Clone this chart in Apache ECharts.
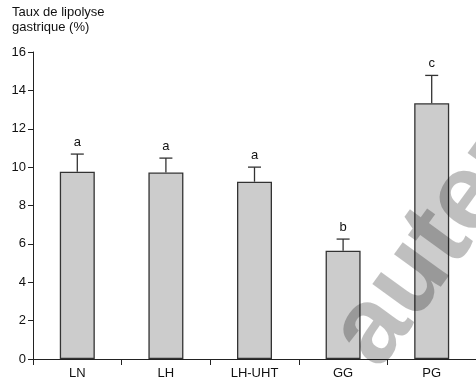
<!DOCTYPE html>
<html>
<head>
<meta charset="utf-8">
<script src="https://cdn.jsdelivr.net/npm/echarts@6/dist/echarts.min.js"></script>
<style>
html,body{margin:0;padding:0;background:#fff;}
#c{width:476px;height:382px;}
</style>
</head>
<body>
<div id="c"></div>
<script>
const categories = ['LN', 'LH', 'LH-UHT', 'GG', 'PG'];
const values = [9.76, 9.72, 9.24, 5.64, 13.33];
const errors = [0.92, 0.75, 0.76, 0.61, 1.45];
const letters = ['a', 'a', 'a', 'b', 'c'];
const yTicks = [0, 2, 4, 6, 8, 10, 12, 14, 16];

const FONT = "'Liberation Sans', Arial, Helvetica, sans-serif";
const chart = echarts.init(document.getElementById('c'), null, {renderer: 'canvas'});

const errData = categories.map((c, i) => [i, values[i], values[i] + errors[i], letters[i]]);

chart.setOption({
  animation: false,
  backgroundColor: '#fff',
  grid: {left: 33, top: 52, width: 447, bottom: 23, containLabel: false},
  xAxis: {
    type: 'category',
    data: categories,
    boundaryGap: true,
    axisLine: {show: true, lineStyle: {color: '#222', width: 1}},
    axisTick: {show: true, inside: false, length: 6, lineStyle: {color: '#222', width: 1}},
    axisLabel: {color: '#111', fontSize: 13, fontFamily: FONT, margin: 8}
  },
  yAxis: {
    type: 'value',
    min: yTicks[0],
    max: yTicks[yTicks.length - 1],
    interval: 2,
    splitLine: {show: false},
    axisLine: {show: true, lineStyle: {color: '#222', width: 1}},
    axisTick: {show: true, inside: false, length: 5, lineStyle: {color: '#222', width: 1}},
    axisLabel: {color: '#111', fontSize: 13, fontFamily: FONT, margin: 7}
  },
  graphic: [
    {
      type: 'text', left: 12, top: 5, z: 10,
      style: {text: 'Taux de lipolyse\ngastrique (%)', fill: '#111', font: '13px ' + FONT, lineHeight: 15}
    },
    {
      type: 'text', x: 355, y: 354, rotation: 0.942, z: 100, silent: true,
      style: {text: 'auteur', fill: 'rgba(0,0,0,0.25)', font: 'bold 108px ' + FONT, align: 'left', verticalAlign: 'middle'}
    }
  ],
  series: [
    {
      type: 'bar',
      data: values,
      barWidth: 35,
      itemStyle: {color: '#cccccc', borderColor: '#333', borderWidth: 1.3},
      z: 2
    },
    {
      type: 'custom',
      data: errData,
      z: 3,
      renderItem: function (params, api) {
        const x = api.value(0);
        const p0 = api.coord([x, api.value(1)]);
        const p1 = api.coord([x, api.value(2)]);
        const half = 6.5;
        const st = {stroke: '#333', lineWidth: 1.3};
        return {
          type: 'group',
          children: [
            {type: 'line', shape: {x1: p0[0], y1: p0[1], x2: p1[0], y2: p1[1]}, style: st},
            {type: 'line', shape: {x1: p1[0] - half, y1: p1[1], x2: p1[0] + half, y2: p1[1]}, style: st},
            {type: 'text', style: {text: api.value(3), x: p1[0], y: p1[1] - 5, align: 'center', verticalAlign: 'bottom', fill: '#111', font: '13px ' + FONT}}
          ]
        };
      }
    }
  ]
});
</script>
</body>
</html>
